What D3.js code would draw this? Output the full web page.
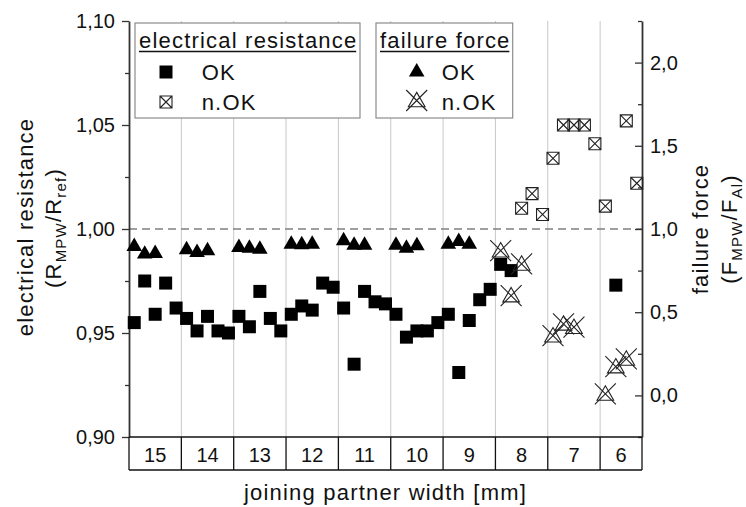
<!DOCTYPE html>
<html>
<head>
<meta charset="utf-8">
<script src="https://cdn.jsdelivr.net/npm/d3@7"></script>
<style>
body { margin: 0; background: #fff; }
text { font-family: "Liberation Sans", Arial, sans-serif; }
</style>
</head>
<body>
<div id="chart"></div>
<script>
// joining partner width categories, number of sample slots in each
var categories = ["15", "14", "13", "12", "11", "10", "9", "8", "7", "6"];
var slotCounts = [5, 5, 5, 5, 5, 5, 5, 5, 5, 4];

// electrical resistance R_MPW/R_ref (left axis), one entry per slot
var resistanceOK = [
	[0.955, 0.975, 0.959, 0.974, 0.962],
	[0.957, 0.951, 0.958, 0.951, 0.950],
	[0.958, 0.953, 0.970, 0.957, 0.951],
	[0.959, 0.963, 0.961, 0.974, 0.972],
	[0.962, 0.935, 0.970, 0.965, 0.964],
	[0.959, 0.948, 0.951, 0.951, 0.955],
	[0.959, 0.931, 0.956, 0.966, 0.971],
	[0.983, 0.980, null, null, null],
	[null, null, null, null, null],
	[null, 0.973, null, null]
];
var resistanceNOK = [
	[], [], [], [], [], [], [],
	[null, null, 1.010, 1.017, 1.007],
	[1.034, 1.050, 1.050, 1.050, 1.041],
	[1.011, null, 1.052, 1.022]
];

// failure force F_MPW/F_Al (right axis)
var forceOK = [
	[0.895, 0.849, 0.853],
	[0.876, 0.859, 0.870],
	[0.889, 0.885, 0.879],
	[0.909, 0.906, 0.909],
	[0.930, 0.903, 0.903],
	[0.903, 0.885, 0.900],
	[0.909, 0.925, 0.909],
	[], [], []
];
var forceNOK = [
	[], [], [], [], [], [], [],
	[0.861, 0.591, 0.781],
	[0.350, 0.421, 0.401],
	[0.000, 0.164, 0.210]
];

var leftMajor = [0.90, 0.95, 1.00, 1.05, 1.10];
var leftMinor = [0.925, 0.975, 1.025, 1.075];
var rightMajor = [0.0, 0.5, 1.0, 1.5, 2.0];
var rightMinor = [-0.25, 0.25, 0.75, 1.25, 1.75, 2.25];

var FONT = '"Liberation Sans", Arial, sans-serif';

var starts = [];
var acc = 0;
slotCounts.forEach(function(n) { starts.push(acc); acc += n; });
var totalSlots = acc;

function toPoints(series) {
	var pts = [];
	series.forEach(function(cat, c) {
		cat.forEach(function(v, j) {
			if (v != null) pts.push({ slot: starts[c] + j + 0.5, value: v });
		});
	});
	return pts;
}

function commaFormat(spec) {
	var f = d3.format(spec);
	return function(d) { return f(d).replace(".", ","); };
}

var squarePath = d3.symbol().type(d3.symbolSquare).size(169)();
var boxCrossPath = "M-6,-6h12v12h-12zM-6,-6L6,6M6,-6L-6,6";
var trianglePath = d3.symbol().type(d3.symbolTriangle).size(105)();
var triCrossPath = d3.symbol().type(d3.symbolTriangle).size(120)() + "M-10.5,-12L10.5,9M10.5,-12L-10.5,9";

function drawChart() {
	var w = 746, h = 507;
	var left = 129, right = 642, top = 21, bottom = 437, tableBottom = 470;

	var svg = d3.select("#chart").append("svg")
		.attr("width", w).attr("height", h)
		.style("background", "#fff");

	var x = d3.scaleLinear().domain([0, totalSlots]).range([left, right]);
	var yL = d3.scaleLinear().domain([0.90, 1.10]).range([bottom, top]);
	var yR = d3.scaleLinear().domain([-0.25, 2.25]).range([bottom, top]);

	// category separators
	svg.append("g").selectAll("line")
		.data(starts.slice(1))
		.enter().append("line")
		.attr("x1", function(d) { return x(d); }).attr("x2", function(d) { return x(d); })
		.attr("y1", top).attr("y2", bottom)
		.attr("stroke", "#c8c8c8").attr("stroke-width", 1);

	// reference line at 1
	svg.append("line")
		.attr("x1", left).attr("x2", right)
		.attr("y1", yL(1)).attr("y2", yL(1))
		.attr("stroke", "#808080").attr("stroke-width", 1.4)
		.attr("stroke-dasharray", "8,5");

	// axes
	svg.append("g").attr("transform", "translate(" + left + ",0)")
		.call(d3.axisLeft(yL).tickValues(leftMajor).tickSize(7).tickSizeOuter(0)
			.tickPadding(7).tickFormat(commaFormat(".2f")));
	svg.append("g").attr("transform", "translate(" + left + ",0)")
		.call(d3.axisLeft(yL).tickValues(leftMinor).tickSize(4).tickFormat(""))
		.select(".domain").remove();

	svg.append("g").attr("transform", "translate(" + right + ",0)")
		.call(d3.axisRight(yR).tickValues(rightMajor).tickSize(-7).tickSizeOuter(0)
			.tickPadding(8).tickFormat(commaFormat(".1f")));
	svg.append("g").attr("transform", "translate(" + right + ",0)")
		.call(d3.axisRight(yR).tickValues(rightMinor).tickSize(-4).tickFormat(""))
		.select(".domain").remove();

	svg.selectAll(".domain").attr("stroke", "#333").attr("stroke-width", 1.8);
	svg.selectAll(".tick line").attr("stroke", "#333").attr("stroke-width", 1.3);
	svg.selectAll(".tick text")
		.attr("font-family", FONT).attr("font-size", 20).attr("fill", "#111");

	// category table below the plot
	var table = svg.append("g").attr("stroke", "#111").attr("stroke-width", 1.3);
	[bottom, tableBottom].forEach(function(yy) {
		table.append("line").attr("x1", left).attr("x2", right).attr("y1", yy).attr("y2", yy);
	});
	starts.concat([totalSlots]).forEach(function(s) {
		table.append("line").attr("x1", x(s)).attr("x2", x(s)).attr("y1", bottom).attr("y2", tableBottom);
	});
	svg.append("g").selectAll("text")
		.data(categories)
		.enter().append("text")
		.attr("x", function(d, i) { return x(starts[i] + slotCounts[i] / 2); })
		.attr("y", 461.5)
		.attr("text-anchor", "middle")
		.attr("font-size", 20)
		.attr("fill", "#111")
		.text(function(d) { return d; });

	// titles
	svg.append("text")
		.attr("x", (left + right) / 2).attr("y", 500)
		.attr("text-anchor", "middle").attr("font-size", 22)
		.attr("letter-spacing", "1.2px").attr("fill", "#111")
		.text("joining partner width [mm]");

	addRotatedTitle(svg, 33, 227, "electrical resistance", null);
	addRotatedTitle(svg, 61, 228, null, ["(R", "MPW", "/R", "ref", ")"]);
	addRotatedTitle(svg, 708, 229, "failure force", null);
	addRotatedTitle(svg, 737, 229, null, ["(F", "MPW", "/F", "Al", ")"]);

	// legends
	addLegend(svg, 135, 225, "electrical resistance", 166, 201.7, squarePath, boxCrossPath);
	addLegend(svg, 376, 136.7, "failure force", 416.7, 441.7, trianglePath, triCrossPath);

	// data
	drawMarkers(svg, toPoints(resistanceOK), x, yL, squarePath, true);
	drawMarkers(svg, toPoints(resistanceNOK), x, yL, boxCrossPath, false);
	drawMarkers(svg, toPoints(forceOK), x, yR, trianglePath, true);
	drawMarkers(svg, toPoints(forceNOK), x, yR, triCrossPath, false);
}

function drawMarkers(svg, pts, x, y, path, filled) {
	svg.append("g").selectAll("path")
		.data(pts)
		.enter().append("path")
		.attr("transform", function(d) { return "translate(" + x(d.slot) + "," + y(d.value) + ")"; })
		.attr("d", path)
		.attr("fill", filled ? "#000" : "none")
		.attr("stroke", filled ? "none" : "#222")
		.attr("stroke-width", 1.1);
}

function addRotatedTitle(svg, bx, cy, plain, parts) {
	var t = svg.append("text")
		.attr("transform", "translate(" + bx + "," + cy + ") rotate(-90)")
		.attr("text-anchor", "middle")
		.attr("font-size", 22)
		.attr("letter-spacing", "1.2px")
		.attr("fill", "#111");
	if (plain) { t.text(plain); return; }
	parts.forEach(function(p, i) {
		var sub = (i % 2 == 1);
		t.append("tspan")
			.attr("font-size", sub ? 15 : 22)
			.attr("dy", sub ? 5 : (i > 0 ? -5 : 0))
			.text(p);
	});
}

function addLegend(svg, bx, bw, title, symX, textX, okPath, nokPath) {
	var g = svg.append("g");
	g.append("rect")
		.attr("x", bx).attr("y", 23).attr("width", bw).attr("height", 95)
		.attr("fill", "#fff").attr("stroke", "#8c8c8c").attr("stroke-width", 1.2);
	var t = g.append("text")
		.attr("x", bx + 4).attr("y", 48)
		.attr("font-size", 22).attr("letter-spacing", "1.2px").attr("fill", "#111")
		.text(title);
	var tw = t.node().getComputedTextLength();
	g.append("line")
		.attr("x1", bx + 4).attr("x2", bx + 4 + tw - 1.2)
		.attr("y1", 51.5).attr("y2", 51.5)
		.attr("stroke", "#111").attr("stroke-width", 1.6);
	g.append("path").attr("transform", "translate(" + symX + ",72)")
		.attr("d", okPath).attr("fill", "#000");
	g.append("path").attr("transform", "translate(" + symX + ",102)")
		.attr("d", nokPath).attr("fill", "none").attr("stroke", "#222").attr("stroke-width", 1.1);
	g.append("text").attr("x", textX).attr("y", 80)
		.attr("font-size", 22).attr("letter-spacing", "1.2px").attr("fill", "#111").text("OK");
	g.append("text").attr("x", textX).attr("y", 109.5)
		.attr("font-size", 22).attr("letter-spacing", "1.2px").attr("fill", "#111").text("n.OK");
}

drawChart();
</script>
</body>
</html>
